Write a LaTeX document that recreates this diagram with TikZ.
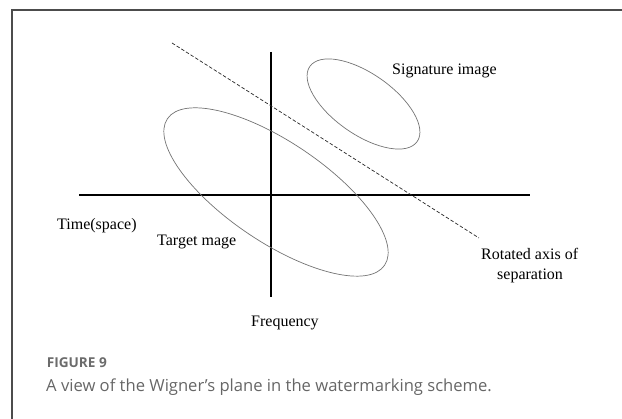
\documentclass[tikz,border=0pt]{standalone}
\usepackage{fontspec}
\setmainfont{Liberation Serif}
\newfontfamily\capfont{Open Sans}
\begin{document}
\begin{tikzpicture}[
    x=1pt, y=1pt,
    lab/.style={font=\fontsize{16}{19}\selectfont, inner sep=0pt, anchor=base west},
    axis/.style={line width=1.1pt, black},
    ell/.style={draw=black!55, line width=0.7pt},
    sepline/.style={line width=0.7pt, black!85, dash pattern=on 3.5pt off 2pt},
    frame/.style={line width=1.4pt, black!70}
  ]
    \useasboundingbox (0,0) rectangle (622,419);
    \draw[frame] (622,409) -- (12,409) -- (12,0);

    \coordinate (tl) at (79,224);
    \coordinate (tr) at (530,224);
    \coordinate (ft) at (271,367);
    \coordinate (fb) at (271,122);
    \draw[axis] (tl) -- (tr);
    \draw[axis] (ft) -- (fb);

    \coordinate (s0) at (172,376);
    \coordinate (s1) at (479,181);
    \draw[sepline] (s0) -- (s1);

    \draw[ell, rotate around={-34:(276,227)}] (276,227) ellipse [x radius=131, y radius=50];
    \draw[ell, rotate around={-35:(363.5,315)}] (363.5,315) ellipse [x radius=65.5, y radius=30.4];

    \node[lab] (sig) at (392,344.7) {Signature image};
    \node[lab] (time) at (57,189) {Time(space)};
    \node[lab] (tgt) at (157,173.3) {Target mage};
    \node[lab] (freq) at (251,92.3) {Frequency};
    \node[lab] (rot1) at (481,159) {Rotated axis of};
    \node[lab] (rot2) at (497,139.7) {separation};

    \node[inner sep=0pt, anchor=base west, text=black!58,
      font=\capfont\bfseries\fontsize{13.6}{15}\selectfont] (fig) at (46.7,51) {FIGURE 9};
    \node[inner sep=0pt, anchor=base west, text=black!60,
      font=\capfont\fontsize{16.6}{20}\selectfont] (cap) at (46,27.3)
      {A view of the Wigner’s plane in the watermarking scheme.};
  \end{tikzpicture}
\end{document}
